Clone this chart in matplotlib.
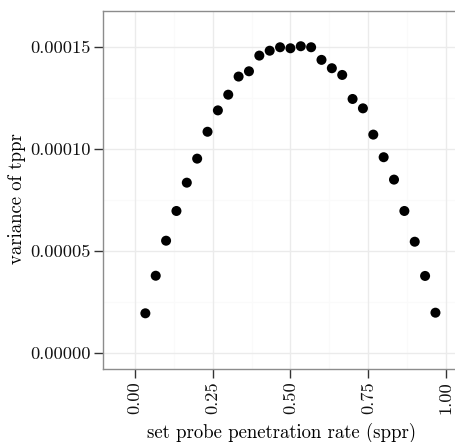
import matplotlib
matplotlib.use("Agg")
import matplotlib.pyplot as plt
import numpy as np

# data
sppr = [1/30, 2/30, 3/30, 4/30, 5/30, 6/30, 7/30, 8/30, 9/30, 10/30,
        11/30, 12/30, 13/30, 14/30, 15/30, 16/30, 17/30, 18/30, 19/30, 20/30,
        21/30, 22/30, 23/30, 24/30, 25/30, 26/30, 27/30, 28/30, 29/30]
variance = [1.935e-5, 3.78e-5, 5.50e-5, 6.96e-5, 8.35e-5, 9.53e-5, 1.085e-4, 1.19e-4, 1.267e-4, 1.356e-4,
            1.382e-4, 1.459e-4, 1.483e-4, 1.500e-4, 1.495e-4, 1.505e-4, 1.500e-4, 1.438e-4, 1.397e-4, 1.364e-4,
            1.246e-4, 1.200e-4, 1.071e-4, 9.60e-5, 8.50e-5, 6.96e-5, 5.45e-5, 3.77e-5, 1.965e-5]
xticks = [0.0, 0.25, 0.5, 0.75, 1.0]
xticklabels = ["0.00", "0.25", "0.50", "0.75", "1.00"]
yticks = [0.0, 0.00005, 0.0001, 0.00015]
yticklabels = ["0.00000", "0.00005", "0.00010", "0.00015"]

plt.rcParams['font.family'] = ['cmr10', 'DejaVu Serif']
plt.rcParams['axes.formatter.use_mathtext'] = True

W, H = 456, 442
fig = plt.figure(figsize=(W/100, H/100), dpi=100)
left, right, top, bottom = 103.3, 457, 11, 369
ax = fig.add_axes([left/W, 1 - bottom/H, (right-left)/W, (bottom-top)/H])

ax.set_xlim(-0.102, 1.036)
ax.set_ylim(-8.0e-6, 1.678e-4)

# minor grid
for v in [0.125, 0.375, 0.625, 0.875]:
    ax.axvline(v, color='#fafafa', lw=0.9, zorder=0)
for v in [0.000025, 0.000075, 0.000125]:
    ax.axhline(v, color='#fafafa', lw=0.9, zorder=0)
for v in xticks:
    ax.axvline(v, color='#ebebeb', lw=1.0, zorder=0.5)
for v in yticks:
    ax.axhline(v, color='#ebebeb', lw=1.0, zorder=0.5)

ax.scatter(sppr, variance, s=52, color='black', edgecolors='none', zorder=3)

ax.set_xticks(xticks)
ax.set_xticklabels(xticklabels, rotation=90, fontsize=13.3, color='#111111')
ax.set_yticks(yticks)
ax.set_yticklabels(yticklabels, fontsize=13.3, color='#111111')
ax.tick_params(axis='both', length=6.5, width=1.0, color='#333333', pad=2.5)

for s in ['left', 'top', 'bottom']:
    ax.spines[s].set_color('#8c8c8c')
    ax.spines[s].set_linewidth(1.0)
ax.spines['right'].set_visible(False)

ax.set_xlabel('set probe penetration rate (sppr)', fontsize=13.5)
ax.set_ylabel('variance of tppr', fontsize=13.5)
ax.xaxis.set_label_coords((281.7 - left)/(right-left), -(433 - bottom)/(bottom-top), transform=ax.transAxes)
ax.yaxis.set_label_coords(-(left - 17)/(right-left), (bottom - 199)/(bottom-top), transform=ax.transAxes)
ax.xaxis.label.set_va('center')
ax.yaxis.label.set_va('center')

fig.savefig('out.png', dpi=100)
